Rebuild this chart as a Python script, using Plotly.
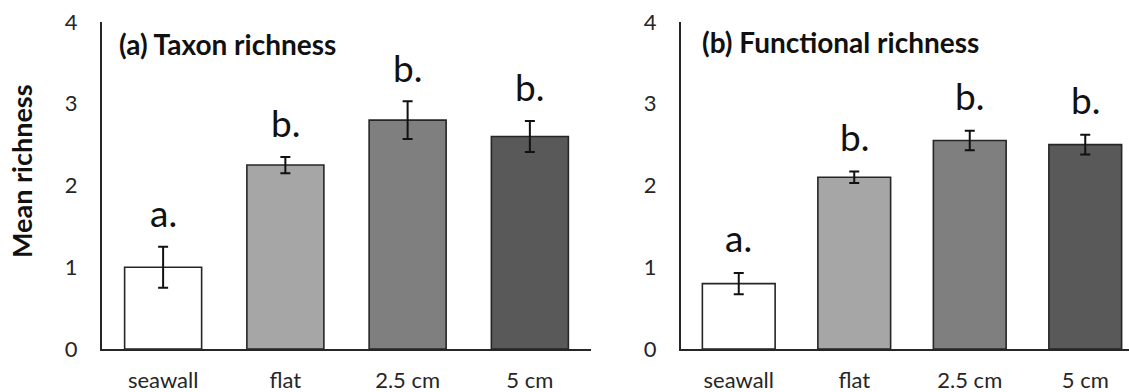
import plotly.graph_objects as go

# Treatments and per-panel means with standard errors
categories = ["seawall", "flat", "2.5 cm", "5 cm"]
bar_colors = ["#ffffff", "#a6a6a6", "#7f7f7f", "#595959"]

taxon_mean = [1.0, 2.25, 2.8, 2.6]
taxon_se = [0.25, 0.1, 0.23, 0.19]
taxon_letters = ["a.", "b.", "b.", "b."]

functional_mean = [0.8, 2.1, 2.55, 2.5]
functional_se = [0.13, 0.07, 0.12, 0.12]
functional_letters = ["a.", "b.", "b.", "b."]

y_ticks = [0, 1, 2, 3, 4]

W, H = 1129, 392
M_TOP, M_BOT = 22, 43
PLOT_H = H - M_TOP - M_BOT
FONT = "Lato"
AXIS_COL = "#262626"


def px_x(px):
    return px / W


def px_y(px):
    return (H - M_BOT - px) / PLOT_H


fig = go.Figure()


def add_panel(means, ses, xa, ya):
    fig.add_trace(go.Bar(
        x=categories, y=means,
        marker=dict(color=bar_colors, line=dict(color=AXIS_COL, width=1.6)),
        error_y=dict(type="data", array=ses, visible=True,
                     color="#111111", thickness=2, width=5),
        xaxis=xa, yaxis=ya, showlegend=False, hoverinfo="skip",
    ))


add_panel(taxon_mean, taxon_se, "x", "y")
add_panel(functional_mean, functional_se, "x2", "y2")

annotations = []
for cat, m, s, lab in zip(categories, taxon_mean, taxon_se, taxon_letters):
    annotations.append(dict(x=cat, y=m + s, xref="x", yref="y", text=lab,
                            showarrow=False, yanchor="middle", yshift=34,
                            font=dict(family=FONT, size=37, color="#111111")))
for cat, m, s, lab in zip(categories, functional_mean, functional_se, functional_letters):
    annotations.append(dict(x=cat, y=m + s, xref="x2", yref="y2", text=lab,
                            showarrow=False, yanchor="middle", yshift=35,
                            font=dict(family=FONT, size=37, color="#111111")))

annotations.append(dict(x=px_x(117), y=px_y(44), xref="paper", yref="paper",
                        text="<b>(a) Taxon richness</b>", showarrow=False,
                        xanchor="left", yanchor="middle",
                        font=dict(family=FONT, size=28, color="#111111")))
annotations.append(dict(x=px_x(700), y=px_y(42), xref="paper", yref="paper",
                        text="<b>(b) Functional richness</b>", showarrow=False,
                        xanchor="left", yanchor="middle",
                        font=dict(family=FONT, size=28, color="#111111")))
annotations.append(dict(x=px_x(21), y=px_y(171), xref="paper", yref="paper",
                        text="<b>Mean richness</b>", showarrow=False,
                        textangle=-90, xanchor="center", yanchor="middle",
                        font=dict(family=FONT, size=27, color="#111111")))

xaxis_common = dict(
    type="category", showline=True, linecolor=AXIS_COL, linewidth=2,
    ticks="", showgrid=False, zeroline=False, ticklabelstandoff=11,
    tickfont=dict(family=FONT, size=22, color=AXIS_COL),
)
yaxis_common = dict(
    range=[0, 4], tickvals=y_ticks, showline=True, linecolor=AXIS_COL,
    linewidth=2, ticks="", showgrid=False, zeroline=False,
    ticklabelstandoff=18, domain=[0, 1],
    tickfont=dict(family=FONT, size=22, color=AXIS_COL),
)

right_end = (W - 681) / 115.5 - 0.5

fig.update_layout(
    width=W, height=H,
    margin=dict(l=0, r=0, t=M_TOP, b=M_BOT),
    paper_bgcolor="white", plot_bgcolor="white",
    bargap=0.37,
    xaxis=dict(domain=[px_x(102), px_x(591)], range=[-0.5, 3.5],
               anchor="y", **xaxis_common),
    xaxis2=dict(domain=[px_x(681), 1.0], range=[-0.5, right_end],
                anchor="y2", **xaxis_common),
    yaxis=dict(anchor="x", **yaxis_common),
    yaxis2=dict(anchor="x2", **yaxis_common),
    annotations=annotations,
)

fig.write_html("out.html")
